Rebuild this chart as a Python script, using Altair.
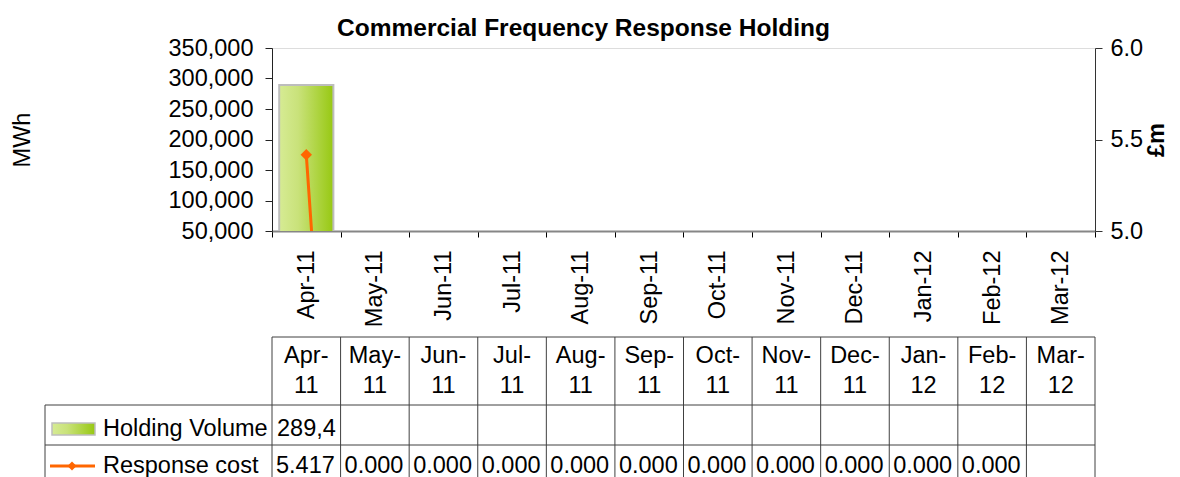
import altair as alt
import pandas as pd

# ---------------- data ----------------
months = ["Apr-11", "May-11", "Jun-11", "Jul-11", "Aug-11", "Sep-11",
          "Oct-11", "Nov-11", "Dec-11", "Jan-12", "Feb-12", "Mar-12"]
holding_volume = [289400, None, None, None, None, None,
                  None, None, None, None, None, None]
response_cost = [5.417, 0.0, 0.0, 0.0, 0.0, 0.0,
                 0.0, 0.0, 0.0, 0.0, 0.0, None]
series_names = ["Holding Volume", "Response cost"]
left_ticks = [50000, 100000, 150000, 200000, 250000, 300000, 350000]
right_ticks = [5.0, 5.5, 6.0]
chart_title = "Commercial Frequency Response Holding"
left_title = "MWh"
right_title = "£m"

df = pd.DataFrame({"month": months, "volume": holding_volume, "cost": response_cost})
one = pd.DataFrame({"k": [0]})
leg_vol = pd.DataFrame({"series": [series_names[0]]})
leg_cost = pd.DataFrame({"series": [series_names[1]]})

# ---------------- style / layout ----------------
W, H = 823, 183
FONT = "Liberation Sans"
FS = 23.5
GRID = "#404040"
ORANGE = "#ff6600"

grad = alt.Gradient(
    gradient="linear",
    stops=[alt.GradientStop(color="#d6eb94", offset=0),
           alt.GradientStop(color="#c9e27a", offset=0.35),
           alt.GradientStop(color="#97c812", offset=1)],
    x1=0, x2=1, y1=0, y2=0,
)

x_scale = alt.Scale(domain=months, paddingInner=0, paddingOuter=0)
x_axis = alt.Axis(title=None, labelAngle=270, labelFontSize=FS, labelFont=FONT,
                  labelColor="black", labelPadding=13, tickSize=6, tickColor="black",
                  tickBand="extent", domainColor="#868686", domainWidth=2,
                  labelOverlap=False)
X = alt.X("month:N", scale=x_scale, axis=x_axis)
X0 = alt.X("month:N", scale=x_scale, axis=x_axis, bandPosition=0)

bar = alt.Chart(df).mark_bar(
    fill=grad, stroke="#bdbdbd", strokeWidth=2,
    width=alt.RelativeBandSize(0.79), clip=True
).encode(
    x=X,
    y=alt.Y("volume:Q",
            scale=alt.Scale(domain=[50000, 350000], zero=False, nice=False),
            axis=alt.Axis(title=left_title, values=left_ticks, format=",.0f",
                          labelFontSize=FS, labelFont=FONT, labelColor="black",
                          labelPadding=12, tickSize=7, tickColor="#222",
                          domainColor="#222", titleFontSize=FS, titleFont=FONT,
                          titleFontWeight="normal", titleColor="black",
                          titlePadding=134, grid=False)),
)

cost_y_scale = alt.Scale(domain=[5.0, 6.0], zero=False, nice=False)
cost_axis = alt.Axis(orient="right", title=right_title, values=right_ticks, format=".1f",
                     labelFontSize=FS, labelFont=FONT, labelColor="black",
                     labelPadding=8, tickSize=7, tickColor="#333", domainColor="#333",
                     titleFontSize=FS, titleFont=FONT, titleFontWeight="bold",
                     titleColor="black", titleAngle=270, titleBaseline="top",
                     titlePadding=2, grid=False)
line = alt.Chart(df).mark_line(color=ORANGE, strokeWidth=3, clip=True).encode(
    x=X, y=alt.Y("cost:Q", scale=cost_y_scale, axis=cost_axis))
pts = alt.Chart(df).mark_point(shape="diamond", filled=True, size=130, color=ORANGE,
                               opacity=1, clip=True).encode(
    x=X, y=alt.Y("cost:Q", scale=cost_y_scale, axis=cost_axis))
cost_layer = alt.layer(line, pts)

# ---------------- data table ----------------
Y_TOP, Y_R1, Y_R2, Y_BOT = 289, 357, 397, 435
LEG_L = -227

v_rules = alt.Chart(df).mark_rule(color=GRID, strokeWidth=1).encode(
    x=X0, y=alt.value(Y_TOP), y2=alt.value(Y_BOT))
v_right = alt.Chart(one).mark_rule(color=GRID, strokeWidth=1).encode(
    x=alt.value(W), y=alt.value(Y_TOP), y2=alt.value(Y_BOT))
v_left = alt.Chart(one).mark_rule(color=GRID, strokeWidth=1).encode(
    x=alt.value(LEG_L), y=alt.value(Y_R1), y2=alt.value(Y_BOT))
h_top = alt.Chart(one).mark_rule(color=GRID, strokeWidth=1).encode(
    x=alt.value(0), x2=alt.value(W), y=alt.value(Y_TOP))
h_r1 = alt.Chart(one).mark_rule(color=GRID, strokeWidth=1).encode(
    x=alt.value(LEG_L), x2=alt.value(W), y=alt.value(Y_R1))
h_r2 = alt.Chart(one).mark_rule(color=GRID, strokeWidth=1).encode(
    x=alt.value(LEG_L), x2=alt.value(W), y=alt.value(Y_R2))

hdr = alt.Chart(df).transform_calculate(
    hl="replace(datum.month, '-', '-\\n')"
).mark_text(font=FONT, fontSize=FS, lineBreak="\n", lineHeight=30,
            baseline="alphabetic", align="center", color="black").encode(
    x=X, y=alt.value(315), text="hl:N")

vol_txt = alt.Chart(df).transform_filter("isValid(datum.volume)").mark_text(
    font=FONT, fontSize=FS, align="left", baseline="alphabetic", dx=5,
    limit=68, ellipsis=" ", color="black").encode(
    x=X0, y=alt.value(388), text=alt.Text("volume:Q", format=",.0f"))

cost_txt = alt.Chart(df).transform_filter("isValid(datum.cost)").mark_text(
    font=FONT, fontSize=FS, align="left", baseline="alphabetic", dx=4,
    color="black").encode(
    x=X0, y=alt.value(425), text=alt.Text("cost:Q", format=".3f"))

leg_swatch = alt.Chart(leg_vol).mark_rect(fill=grad, stroke="#bdbdbd", strokeWidth=1.5).encode(
    x=alt.value(-220), x2=alt.value(-177), y=alt.value(375), y2=alt.value(387))
leg_vol_txt = alt.Chart(leg_vol).mark_text(font=FONT, fontSize=FS, align="left",
                                           baseline="alphabetic", color="black").encode(
    x=alt.value(-169), y=alt.value(388), text="series:N")
leg_line = alt.Chart(leg_cost).mark_rule(color=ORANGE, strokeWidth=3).encode(
    x=alt.value(-222), x2=alt.value(-177), y=alt.value(418))
leg_pt = alt.Chart(leg_cost).mark_point(shape="diamond", filled=True, size=80,
                                        color=ORANGE, opacity=1).encode(
    x=alt.value(-200), y=alt.value(418))
leg_cost_txt = alt.Chart(leg_cost).mark_text(font=FONT, fontSize=FS, align="left",
                                             baseline="alphabetic", color="black").encode(
    x=alt.value(-169), y=alt.value(425), text="series:N")

chart = alt.layer(
    bar, cost_layer,
    v_rules, v_right, v_left, h_top, h_r1, h_r2,
    hdr, vol_txt, cost_txt,
    leg_swatch, leg_vol_txt, leg_line, leg_pt, leg_cost_txt,
).resolve_scale(y="independent").properties(
    width=W, height=H,
    title=alt.TitleParams(chart_title, font=FONT, fontSize=24.5, fontWeight="bold",
                          color="black", anchor="middle", frame="group", dx=-100,
                          baseline="alphabetic", offset=-24),
    autosize=alt.AutoSizeParams(type="none"),
    padding={"left": 264, "top": 40, "right": 77, "bottom": 246},
).configure_view(strokeWidth=0).configure(font=FONT)

chart.save("out.html", embed_options={"renderer": "svg", "actions": False})
